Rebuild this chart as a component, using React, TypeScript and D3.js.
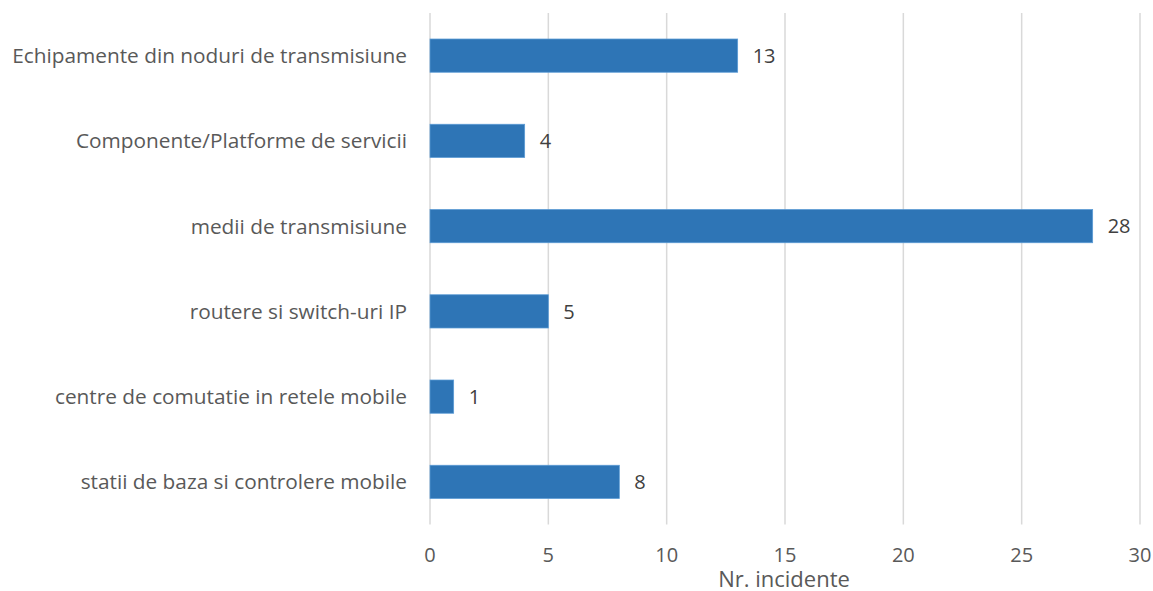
import React from "react";
import * as d3 from "d3";

const categories = [
  "Echipamente din noduri de transmisiune",
  "Componente/Platforme de servicii",
  "medii de transmisiune",
  "routere si switch-uri IP",
  "centre de comutatie in retele mobile",
  "statii de baza si controlere mobile",
];
const values = [13, 4, 28, 5, 1, 8];
const xTicks = [0, 5, 10, 15, 20, 25, 30];
const axisTitle = "Nr. incidente";

export default function App() {
  const W = 1153, H = 591;
  const left = 430, right = 1140, top = 13, bottom = 524.5;
  const x = d3.scaleLinear().domain([0, 30]).range([left, right]);
  const y = d3.scaleBand<string>().domain(categories).range([top, bottom]).paddingInner(0.61).paddingOuter(0.305);
  const font = "'Open Sans', sans-serif";
  const gray = "#595959";
  return (
    <svg width={W} height={H} style={{ position: "absolute", left: 0, top: 0, background: "#fff" }} fontFamily={font}>
      {xTicks.map((t) => (
        <line key={t} x1={x(t)} x2={x(t)} y1={top} y2={bottom} stroke="#D9D9D9" strokeWidth={1.5} />
      ))}
      {categories.map((c, i) => (
        <g key={c}>
          <rect x={x(0)} y={y(c)} width={x(values[i]) - x(0)} height={y.bandwidth()} fill="#2E75B6" stroke="#5B9BD5" strokeWidth={0.75} />
          <text x={x(values[i]) + 15} y={(y(c) as number) + y.bandwidth() / 2} dy="0.36em" fontSize={20} fill="#404040">{values[i]}</text>
          <text x={407} y={(y(c) as number) + y.bandwidth() / 2} dy="0.36em" textAnchor="end" fontSize={20.8} fill={gray}>{c}</text>
        </g>
      ))}
      {xTicks.map((t) => (
        <text key={t} x={x(t)} y={561.5} textAnchor="middle" fontSize={20} fill={gray}>{t}</text>
      ))}
      <text x={784} y={587} textAnchor="middle" fontSize={22} fill={gray}>{axisTitle}</text>
    </svg>
  );
}
